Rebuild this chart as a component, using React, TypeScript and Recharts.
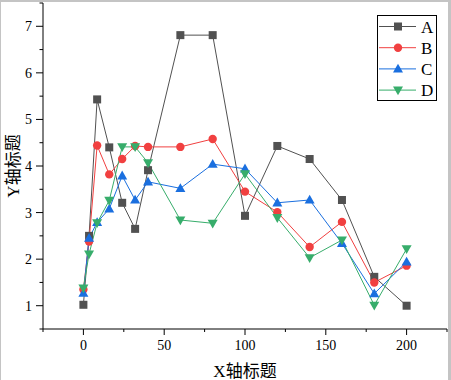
import { LineChart, Line, XAxis, YAxis, Legend } from 'recharts';

const xValues = [0, 3.5, 8.5, 16, 24, 32, 40, 60, 80, 100, 120, 140, 160, 180, 200];
const seriesA = [1.02, 2.5, 5.43, 4.4, 3.21, 2.65, 3.91, 6.81, 6.81, 2.93, 4.43, 4.15, 3.27, 1.62, 1.0];
const seriesB = [1.35, 2.38, 4.44, 3.82, 4.15, 4.43, 4.41, 4.41, 4.58, 3.45, 3.01, 2.26, 2.8, 1.5, 1.86];
const seriesC = [1.27, 2.45, 2.79, 3.08, 3.79, 3.27, 3.66, 3.52, 4.04, 3.94, 3.21, 3.27, 2.34, 1.26, 1.94];
const seriesD = [1.38, 2.11, 2.78, 3.26, 4.41, 4.41, 4.07, 2.84, 2.77, 3.83, 2.89, 2.03, 2.41, 1.01, 2.22];

const xTicks = [-25, 0, 25, 50, 75, 100, 125, 150, 175, 200, 225];
const yTicks = [0.5, 1, 1.5, 2, 2.5, 3, 3.5, 4, 4.5, 5, 5.5, 6, 6.5, 7, 7.5];

const rows = xValues.map((x, i) => ({
  x,
  A: seriesA[i],
  B: seriesB[i],
  C: seriesC[i],
  D: seriesD[i],
}));

const COLORS = { A: '#515151', B: '#F14040', C: '#1A6FDF', D: '#37AD6B' };
const SERIF = "'Liberation Serif', 'Times New Roman', serif";
const TITLE_FONT = "'Liberation Serif', 'Noto Sans CJK SC', serif";

type Shape = 'square' | 'circle' | 'up' | 'down';

const Marker = ({ cx, cy, shape, color }: { cx: number; cy: number; shape: Shape; color: string }) => {
  if (cx == null || cy == null) return null;
  if (shape === 'square') return <rect x={cx - 4} y={cy - 4} width={8} height={8} fill={color} />;
  if (shape === 'circle') return <circle cx={cx} cy={cy} r={4.2} fill={color} />;
  if (shape === 'up')
    return <polygon points={`${cx},${cy - 5.2} ${cx + 5},${cy + 3.6} ${cx - 5},${cy + 3.6}`} fill={color} />;
  return <polygon points={`${cx},${cy + 5.2} ${cx + 5},${cy - 3.6} ${cx - 5},${cy - 3.6}`} fill={color} />;
};

const XTick = ({ x, y, payload }: any) => {
  const major = payload.value % 50 === 0;
  return (
    <g>
      <line x1={x} x2={x} y1={y} y2={y + (major ? 6 : 3)} stroke="#000" />
      {major && (
        <text x={x} y={y + 21} textAnchor="middle" fontSize={14} fontFamily={SERIF} fill="#000">
          {payload.value}
        </text>
      )}
    </g>
  );
};

const YTick = ({ x, y, payload }: any) => {
  const major = Number.isInteger(payload.value);
  return (
    <g>
      <line x1={x - (major ? 7 : 3.5)} x2={x} y1={y} y2={y} stroke="#000" />
      {major && (
        <text x={x - 11} y={y + 5} textAnchor="end" fontSize={14} fontFamily={SERIF} fill="#000">
          {payload.value}
        </text>
      )}
    </g>
  );
};

const shapes: Record<string, Shape> = { A: 'square', B: 'circle', C: 'up', D: 'down' };

const LegendBox = ({ payload }: any) => (
  <div style={{ border: '1px solid #000', width: 60, height: 86, background: '#fff', boxSizing: 'border-box' }}>
    <svg width={58} height={84} style={{ overflow: 'visible', display: 'block' }}>
      {(payload || []).map((p: any, i: number) => {
        const cy = 10.5 + i * 21.2;
        return (
          <g key={p.value}>
            <line x1={1} x2={38} y1={cy} y2={cy} stroke={p.color} strokeWidth={1} />
            <Marker cx={20} cy={cy} shape={shapes[p.value]} color={p.color} />
            <text x={43} y={cy + 6} fontSize={17} fontFamily={SERIF} fill="#000">
              {p.value}
            </text>
          </g>
        );
      })}
    </svg>
  </div>
);

export default function App() {
  return (
    <div style={{ position: 'absolute', left: 0, top: 0, width: 451, height: 380, background: '#fff' }}>
      <LineChart width={451} height={380} data={rows} margin={{ top: 3, right: 4, bottom: 1, left: 0 }}>
        <XAxis
          dataKey="x"
          type="number"
          domain={[-25, 225]}
          ticks={xTicks}
          interval={0}
          height={50}
          tickSize={0}
          tickMargin={0}
          tickLine={false}
          axisLine={{ stroke: '#000' }}
          tick={<XTick />}
          label={{ value: 'X轴标题', position: 'center', dy: 17, fontSize: 17, fontFamily: TITLE_FONT, fill: '#000' }}
        />
        <YAxis
          type="number"
          domain={[0.5, 7.5]}
          ticks={yTicks}
          interval={0}
          width={43}
          tickSize={0}
          tickMargin={0}
          tickLine={false}
          axisLine={{ stroke: '#000' }}
          tick={<YTick />}
          label={{ value: 'Y轴标题', angle: -90, position: 'center', dx: -9, fontSize: 17, fontFamily: TITLE_FONT, fill: '#000' }}
        />
        <Legend
          layout="horizontal"
          verticalAlign="middle"
          align="center"
          content={<LegendBox />}
          wrapperStyle={{ position: 'absolute', top: 15, left: 377, width: 60, height: 86 }}
        />
        {(['A', 'B', 'C', 'D'] as const).map((k) => (
          <Line
            key={k}
            dataKey={k}
            name={k}
            stroke={COLORS[k]}
            strokeWidth={1}
            isAnimationActive={false}
            dot={(props: any) => <Marker key={`${k}-${props.index}`} cx={props.cx} cy={props.cy} shape={shapes[k]} color={COLORS[k]} />}
            activeDot={false}
          />
        ))}
      </LineChart>
      <div style={{ position: 'absolute', left: 0, top: 0, width: 451, height: 2, background: '#c4c4c4' }} />
      <div style={{ position: 'absolute', left: 0, top: 0, width: 1, height: 380, background: '#c4c4c4' }} />
      <div style={{ position: 'absolute', left: 448, top: 0, width: 3, height: 380, background: '#c4c4c4' }} />
    </div>
  );
}
